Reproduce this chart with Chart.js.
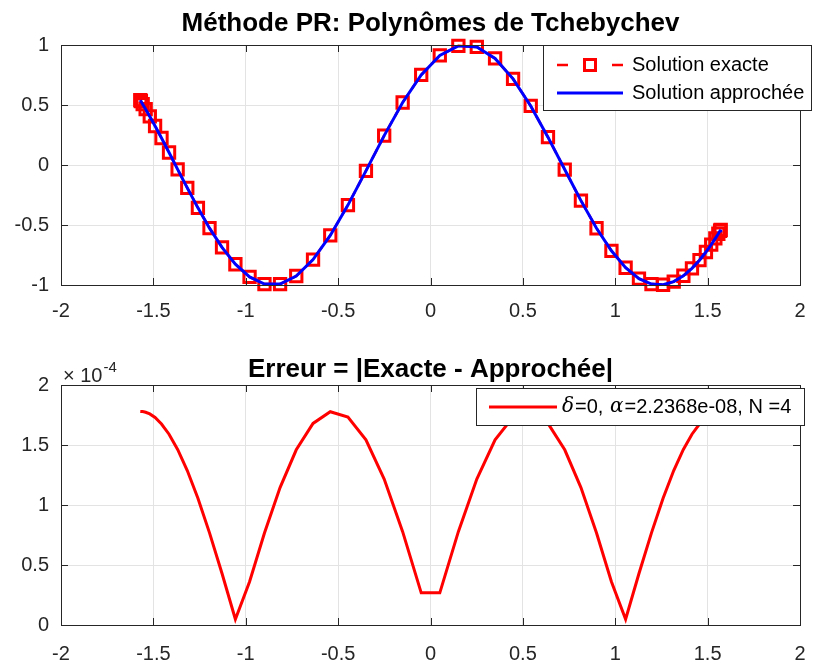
<!DOCTYPE html>
<html>
<head>
<meta charset="utf-8">
<script src="https://cdn.jsdelivr.net/npm/chart.js@4.4.1/dist/chart.umd.min.js"></script>
<style>
  body { margin: 0; background: #fff; }
  #wrap { position: relative; width: 815px; height: 666px; }
  canvas { position: absolute; left: 0; }
</style>
</head>
<body>
<div id="wrap">
  <canvas id="solChart" width="815" height="333" style="top:0"></canvas>
  <canvas id="errChart" width="815" height="333" style="top:333px"></canvas>
</div>
<script>
// noeuds de Tchebychev (abscisses)
const xNodes = [-1.5708, -1.5676, -1.5579, -1.5418, -1.5194, -1.4908, -1.4560, -1.4152, -1.3687, -1.3165,
  -1.2589, -1.1961, -1.1284, -1.0561, -0.9794, -0.8987, -0.8143, -0.7266, -0.6358, -0.5425,
  -0.4469, -0.3495, -0.2507, -0.1508, -0.0503, 0.0503, 0.1508, 0.2507, 0.3495, 0.4469,
  0.5425, 0.6358, 0.7266, 0.8143, 0.8987, 0.9794, 1.0561, 1.1284, 1.1961, 1.2589,
  1.3165, 1.3687, 1.4152, 1.4560, 1.4908, 1.5194, 1.5418, 1.5579, 1.5676, 1.5708];

const exactValues = [0.540, 0.532, 0.507, 0.465, 0.405, 0.325, 0.225, 0.104, -0.036, -0.191,
  -0.357, -0.526, -0.686, -0.827, -0.933, -0.992, -0.992, -0.925, -0.788, -0.587,
  -0.334, -0.049, 0.245, 0.521, 0.751, 0.913, 0.993, 0.984, 0.888, 0.718,
  0.492, 0.232, -0.038, -0.297, -0.527, -0.715, -0.856, -0.947, -0.992, -0.998,
  -0.972, -0.923, -0.861, -0.793, -0.725, -0.663, -0.611, -0.573, -0.548, -0.540];

const approxValues = [0.540, 0.532, 0.507, 0.465, 0.405, 0.325, 0.225, 0.104, -0.036, -0.191,
  -0.357, -0.526, -0.686, -0.827, -0.933, -0.992, -0.992, -0.925, -0.788, -0.587,
  -0.334, -0.049, 0.245, 0.521, 0.751, 0.913, 0.993, 0.984, 0.888, 0.718,
  0.492, 0.232, -0.038, -0.297, -0.527, -0.715, -0.856, -0.947, -0.992, -0.998,
  -0.972, -0.923, -0.861, -0.793, -0.725, -0.663, -0.611, -0.573, -0.548, -0.540];

// erreur en unites de 1e-4
const errorValues = [1.780, 1.780, 1.779, 1.773, 1.759, 1.729, 1.675, 1.590, 1.463, 1.287,
  1.056, 0.768, 0.429, 0.048, 0.360, 0.767, 1.145, 1.460, 1.680, 1.777,
  1.733, 1.543, 1.216, 0.778, 0.268, 0.268, 0.778, 1.216, 1.543, 1.733,
  1.777, 1.680, 1.460, 1.145, 0.767, 0.360, 0.048, 0.429, 0.768, 1.056,
  1.287, 1.463, 1.590, 1.675, 1.729, 1.759, 1.773, 1.779, 1.780, 1.780];

const xTicks = [-2, -1.5, -1, -0.5, 0, 0.5, 1, 1.5, 2];
const solTicks = [-1, -0.5, 0, 0.5, 1];
const errTicks = [0, 0.5, 1, 1.5, 2];

const FONT = '"Liberation Sans", Arial, Helvetica, sans-serif';
const AXIS = '#262626';

function fmt(v) { return String(Number(v.toFixed(2))); }

function points(ys) { return xNodes.map((x, i) => ({ x: x, y: ys[i] })); }

// cadre + graduations vers l'interieur (style matlab)
const frame = {
  id: 'frame',
  afterDatasetsDraw(chart, args, opts) {
    const ctx = chart.ctx, a = chart.chartArea;
    const xs = chart.scales.x, ys = chart.scales.y;
    ctx.save();
    ctx.strokeStyle = AXIS;
    ctx.lineWidth = 1;
    ctx.beginPath();
    xs.ticks.forEach(t => {
      const p = Math.round(xs.getPixelForValue(t.value)) + 0.5;
      ctx.moveTo(p, a.bottom); ctx.lineTo(p, a.bottom - 7);
      ctx.moveTo(p, a.top); ctx.lineTo(p, a.top + 7);
    });
    ys.ticks.forEach(t => {
      const p = Math.round(ys.getPixelForValue(t.value)) + 0.5;
      ctx.moveTo(a.left, p); ctx.lineTo(a.left + 7, p);
      ctx.moveTo(a.right, p); ctx.lineTo(a.right - 7, p);
    });
    ctx.stroke();
    ctx.strokeRect(Math.round(a.left) + 0.5, Math.round(a.top) + 0.5,
      Math.round(a.right - a.left), Math.round(a.bottom - a.top));

    // titre
    ctx.fillStyle = '#000';
    ctx.font = 'bold 26px ' + FONT;
    ctx.textAlign = 'center';
    ctx.textBaseline = 'alphabetic';
    ctx.fillText(opts.title, (a.left + a.right) / 2, opts.titleY);
    ctx.restore();
  }
};

const solLegend = {
  id: 'solLegend',
  afterDraw(chart) {
    const ctx = chart.ctx;
    ctx.save();
    ctx.fillStyle = '#fff';
    ctx.fillRect(543, 45, 268, 65);
    ctx.strokeStyle = AXIS;
    ctx.lineWidth = 1;
    ctx.strokeRect(543.5, 45.5, 268, 65);
    // solution exacte
    ctx.strokeStyle = '#ff0000';
    ctx.lineWidth = 2.5;
    ctx.beginPath();
    ctx.moveTo(557, 65); ctx.lineTo(568, 65);
    ctx.moveTo(612, 65); ctx.lineTo(623, 65);
    ctx.stroke();
    ctx.lineWidth = 3;
    ctx.strokeRect(584.5, 59.5, 11, 11);
    // solution approchee
    ctx.strokeStyle = '#0000ff';
    ctx.lineWidth = 3;
    ctx.beginPath();
    ctx.moveTo(557, 93); ctx.lineTo(623, 93);
    ctx.stroke();
    ctx.fillStyle = '#000';
    ctx.font = '20px ' + FONT;
    ctx.textAlign = 'left';
    ctx.textBaseline = 'middle';
    ctx.fillText('Solution exacte', 632, 65);
    ctx.fillText('Solution approchée', 632, 93);
    ctx.restore();
  }
};

const errLegend = {
  id: 'errLegend',
  afterDraw(chart) {
    const ctx = chart.ctx;
    ctx.save();
    ctx.fillStyle = '#fff';
    ctx.fillRect(476, 55, 328, 37);
    ctx.strokeStyle = AXIS;
    ctx.lineWidth = 1;
    ctx.strokeRect(476.5, 55.5, 328, 37);
    ctx.strokeStyle = '#ff0000';
    ctx.lineWidth = 3;
    ctx.beginPath();
    ctx.moveTo(489, 74); ctx.lineTo(557, 74);
    ctx.stroke();
    const parts = [
      ['δ', 'italic 20px "DejaVu Serif", serif'],
      ['=0, ', '20px ' + FONT],
      ['α', 'italic 20px "DejaVu Serif", serif'],
      ['=2.2368e-08, N =4', '20px ' + FONT]
    ];
    let x = 562;
    ctx.fillStyle = '#000';
    ctx.textBaseline = 'middle';
    ctx.textAlign = 'left';
    parts.forEach(p => {
      ctx.font = p[1];
      ctx.fillText(p[0], x, 74);
      x += ctx.measureText(p[0]).width + 1;
    });
    // facteur d'echelle
    ctx.fillStyle = AXIS;
    ctx.textBaseline = 'alphabetic';
    ctx.font = '20px ' + FONT;
    ctx.fillText('× 10', 63, 49);
    const w = ctx.measureText('× 10').width;
    ctx.font = '15px ' + FONT;
    ctx.fillText('-4', 63 + w + 1, 39);
    ctx.restore();
  }
};

function baseScales(yMin, yMax, yTickVals, xHeight, xPad) {
  const tickFont = { family: FONT, size: 20 };
  return {
    x: {
      type: 'linear', min: -2, max: 2,
      afterBuildTicks: s => { s.ticks = xTicks.map(v => ({ value: v })); },
      afterFit: s => { s.height = xHeight; s.paddingLeft = 0; s.paddingRight = 0; },
      grid: { color: '#e3e3e3', drawTicks: false },
      border: { display: false },
      ticks: { font: tickFont, color: AXIS, padding: xPad, maxRotation: 0, callback: fmt }
    },
    y: {
      type: 'linear', min: yMin, max: yMax,
      afterBuildTicks: s => { s.ticks = yTickVals.map(v => ({ value: v })); },
      afterFit: s => { s.width = 61; s.paddingTop = 0; s.paddingBottom = 0; },
      grid: { color: '#e3e3e3', drawTicks: false },
      border: { display: false },
      ticks: { font: tickFont, color: AXIS, padding: 12, callback: fmt }
    }
  };
}

new Chart(document.getElementById('solChart'), {
  type: 'scatter',
  data: {
    datasets: [{
      label: 'Solution exacte',
      data: points(exactValues),
      showLine: true,
      borderColor: '#ff0000',
      borderWidth: 2.5,
      borderDash: [10, 6],
      pointStyle: 'rect',
      pointRadius: 8,
      pointBorderWidth: 3,
      pointBorderColor: '#ff0000',
      pointBackgroundColor: 'rgba(0,0,0,0)',
      clip: false,
      order: 1
    }, {
      label: 'Solution approchée',
      data: points(approxValues),
      showLine: true,
      borderColor: '#0000ff',
      borderWidth: 3,
      pointRadius: 0,
      order: 0
    }]
  },
  options: {
    responsive: false,
    animation: false,
    layout: { padding: { top: 45, right: 15, left: 0, bottom: 0 } },
    plugins: {
      legend: { display: false },
      tooltip: { enabled: false },
      frame: { title: 'Méthode PR: Polynômes de Tchebychev', titleY: 31 }
    },
    scales: baseScales(-1, 1, solTicks, 48, 14)
  },
  plugins: [frame, solLegend]
});

new Chart(document.getElementById('errChart'), {
  type: 'scatter',
  data: {
    datasets: [{
      label: 'δ=0, α=2.2368e-08, N =4',
      data: points(errorValues),
      showLine: true,
      borderColor: '#ff0000',
      borderWidth: 3,
      pointRadius: 0
    }]
  },
  options: {
    responsive: false,
    animation: false,
    layout: { padding: { top: 52, right: 15, left: 0, bottom: 0 } },
    plugins: {
      legend: { display: false },
      tooltip: { enabled: false },
      frame: { title: 'Erreur = |Exacte - Approchée|', titleY: 44 }
    },
    scales: baseScales(0, 2, errTicks, 41, 17)
  },
  plugins: [frame, errLegend]
});
</script>
</body>
</html>
